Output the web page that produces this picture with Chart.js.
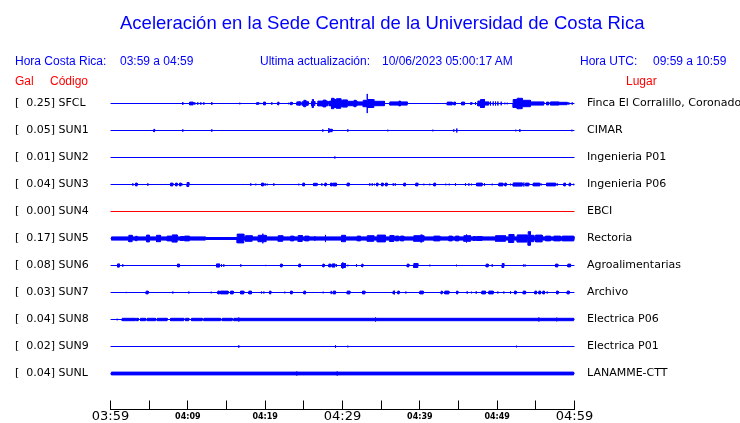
<!DOCTYPE html>
<html>
<head>
<meta charset="utf-8">
<script src="https://cdn.jsdelivr.net/npm/chart.js@4.4.0/dist/chart.umd.min.js"></script>
<style>
body { margin: 0; background: #fff; }
#wrap { position: relative; width: 740px; height: 423px; }
.t { position: absolute; white-space: pre; font-family: "Liberation Sans", Arial, sans-serif; font-size: 12px; line-height: 1; color: #0000ff; }
.r { color: #ff0000; }
</style>
</head>
<body>
<div id="wrap">
<canvas id="seis" width="740" height="423"></canvas>
<div class="t" style="left:120px;top:13.5px;font-size:18.5px">Aceleración en la Sede Central de la Universidad de Costa Rica</div>
<div class="t" style="left:15px;top:54.8px">Hora Costa Rica:</div>
<div class="t" style="left:120px;top:54.8px">03:59 a 04:59</div>
<div class="t" style="left:260px;top:54.8px">Ultima actualización:</div>
<div class="t" style="left:382px;top:54.8px">10/06/2023 05:00:17 AM</div>
<div class="t" style="left:580px;top:54.8px">Hora UTC:</div>
<div class="t" style="left:653px;top:54.8px">09:59 a 10:59</div>
<div class="t r" style="left:15px;top:74.8px">Gal</div>
<div class="t r" style="left:50px;top:74.8px">Código</div>
<div class="t r" style="left:626px;top:74.8px">Lugar</div>
</div>
<script>
// estaciones
var codes = ['SFCL', 'SUN1', 'SUN2', 'SUN3', 'SUN4', 'SUN5', 'SUN6', 'SUN7', 'SUN8', 'SUN9', 'SUNL'];
var peaks = [0.25, 0.05, 0.01, 0.04, 0.00, 0.17, 0.08, 0.03, 0.04, 0.02, 0.04];
var places = ['Finca El Corralillo, Coronado', 'CIMAR', 'Ingenieria P01', 'Ingenieria P06', 'EBCI', 'Rectoria',
    'Agroalimentarias', 'Archivo', 'Electrica P06', 'Electrica P01', 'LANAMME-CTT'];
var traceColors = ['#0000ff', '#0000ff', '#0000ff', '#0000ff', '#ff0000', '#0000ff', '#0000ff', '#0000ff', '#0000ff', '#0000ff', '#0000ff'];

// eje de tiempo: minutos desde 03:59
var tickMinutes = [0, 10, 20, 30, 40, 50, 60];
var tickLabels = ['03:59', '04:09', '04:19', '04:29', '04:39', '04:49', '04:59'];

// eventos por estacion: [minuto inicio, minuto fin, amplitud en Gal]
var sfcl = [
    [9.35, 9.35, 0.035], [10.22, 10.69, 0.035], [10.9, 10.9, 0.03], [11.29, 11.29, 0.03], [11.68, 11.68, 0.03],
    [12.07, 12.07, 0.03], [13.1, 13.1, 0.035], [16.72, 16.72, 0.02], [18.88, 19.18, 0.02], [19.44, 19.44, 0.015],
    [19.79, 20.04, 0.035], [20.86, 20.86, 0.03], [21.63, 21.76, 0.035], [23.06, 23.06, 0.02], [23.28, 23.5, 0.03],
    [24.09, 24.61, 0.04], [24.4, 24.4, 0.055], [24.79, 25.57, 0.045], [25.0, 25.25, 0.08],
    [25.99, 26.42, 0.05], [26.1, 26.25, 0.1], [26.81, 28.15, 0.055], [26.81, 27.5, 0.06], [27.5, 27.85, 0.085],
    [28.32, 28.58, 0.06], [28.58, 28.88, 0.13], [28.88, 29.22, 0.1], [29.22, 29.78, 0.12], [29.78, 30.04, 0.08],
    [30.04, 30.61, 0.09], [30.61, 31.9, 0.055], [31.5, 31.75, 0.08], [31.9, 32.68, 0.04], [32.68, 33.2, 0.08],
    [33.2, 33.2, 0.24], [33.2, 34.05, 0.1], [34.05, 35.43, 0.055], [36.12, 38.37, 0.04], [37.3, 37.5, 0.06],
    [43.54, 44.19, 0.035], [44.39, 44.61, 0.035], [45.39, 45.78, 0.035], [46.55, 46.75, 0.02], [47.2, 47.2, 0.035],
    [47.5, 47.85, 0.06], [47.85, 48.36, 0.1], [48.02, 48.02, 0.11], [48.36, 48.92, 0.04], [49.14, 49.14, 0.05],
    [49.49, 49.49, 0.05], [49.79, 49.79, 0.05], [50.09, 50.09, 0.05], [50.52, 50.52, 0.045], [51.0, 51.0, 0.02],
    [51.3, 51.3, 0.02], [52.07, 52.59, 0.1], [52.59, 53.24, 0.13], [52.75, 52.75, 0.14], [53.24, 54.31, 0.08],
    [54.31, 56.03, 0.04], [56.38, 56.68, 0.035], [56.9, 57.97, 0.04], [57.97, 59.06, 0.03], [59.27, 59.27, 0.03],
    [59.7, 59.7, 0.03]
];
var sun1 = [
    [5.6, 5.7, 0.03], [9.35, 9.35, 0.03], [13.1, 13.1, 0.03], [27.46, 27.46, 0.03], [28.23, 28.67, 0.03],
    [28.23, 28.23, 0.06], [30.69, 30.69, 0.03], [35.86, 35.86, 0.02], [41.68, 41.68, 0.02], [44.39, 44.39, 0.03],
    [44.78, 44.78, 0.05], [52.41, 52.41, 0.02], [52.93, 52.93, 0.035], [59.66, 59.66, 0.02]
];
var sun2 = [[29.01, 29.01, 0.025]];
var sun3 = [
    [2.89, 2.89, 0.03], [3.23, 3.45, 0.035], [4.83, 4.83, 0.03], [7.76, 8.06, 0.035], [8.41, 8.62, 0.035],
    [8.92, 9.14, 0.035], [9.27, 9.27, 0.02], [9.91, 10.13, 0.05], [18.14, 18.14, 0.03], [18.79, 18.79, 0.02],
    [19.53, 19.79, 0.035], [20.0, 20.0, 0.03], [20.26, 20.26, 0.02], [21.12, 21.12, 0.03], [24.35, 24.35, 0.02],
    [24.87, 25.09, 0.035], [26.25, 26.68, 0.03], [26.77, 26.77, 0.02], [27.33, 27.33, 0.03], [27.72, 27.89, 0.035],
    [28.45, 28.67, 0.035], [28.8, 29.22, 0.035], [30.61, 30.87, 0.035], [33.53, 33.53, 0.03], [33.84, 33.84, 0.03],
    [34.14, 34.14, 0.02], [34.4, 34.57, 0.035], [35.04, 35.26, 0.035], [35.56, 35.78, 0.035], [36.56, 36.56, 0.03],
    [36.82, 36.82, 0.03], [37.93, 38.15, 0.035], [39.48, 39.74, 0.035], [40.52, 40.52, 0.02], [41.29, 41.29, 0.02],
    [41.81, 42.03, 0.035], [43.36, 43.36, 0.02], [43.8, 43.8, 0.02], [44.61, 44.61, 0.03], [45.91, 45.91, 0.03],
    [46.34, 46.34, 0.03], [46.68, 46.68, 0.02], [47.33, 48.06, 0.035], [48.36, 48.36, 0.03], [49.36, 49.36, 0.02],
    [50.22, 50.74, 0.035], [50.99, 51.17, 0.035], [51.73, 51.73, 0.02], [52.07, 53.24, 0.04], [53.45, 53.45, 0.05],
    [53.67, 54.1, 0.035], [54.66, 55.52, 0.035], [55.74, 55.74, 0.02], [56.38, 57.55, 0.035], [57.76, 57.76, 0.03],
    [58.62, 58.84, 0.035], [59.32, 59.49, 0.035], [59.91, 59.91, 0.02]
];
var sun4 = [];
var sun5 = [
    [0.13, 12.28, 0.04], [2.37, 2.8, 0.08], [3.23, 3.45, 0.055], [4.66, 5.04, 0.085], [5.95, 6.47, 0.08],
    [7.33, 7.89, 0.06], [7.98, 8.62, 0.09], [9.05, 9.48, 0.05], [9.57, 10.22, 0.06], [12.28, 16.38, 0.025],
    [16.38, 17.24, 0.11], [17.24, 60, 0.04], [17.46, 18.32, 0.07], [19.1, 20.13, 0.08], [19.7, 19.7, 0.12],
    [21.68, 22.28, 0.07], [23.28, 23.71, 0.06], [24.27, 24.79, 0.075], [25.13, 25.65, 0.06], [26.42, 26.42, 0.06],
    [27.8, 27.8, 0.09], [29.87, 30.39, 0.08], [31.9, 32.33, 0.06], [33.2, 34.05, 0.07], [34.49, 35.56, 0.085],
    [36.12, 36.64, 0.075], [36.85, 37.28, 0.06], [37.5, 37.93, 0.06], [39.22, 40.52, 0.07], [40.1, 40.3, 0.09],
    [41.81, 42.59, 0.06], [43.75, 44.19, 0.06], [44.61, 45.04, 0.06], [45.69, 46.55, 0.07], [46.04, 46.04, 0.1],
    [46.9, 47.2, 0.05], [47.33, 48.06, 0.05], [49.79, 51.08, 0.07], [51.51, 52.15, 0.1], [52.59, 53.88, 0.09],
    [54.01, 54.31, 0.17], [54.31, 54.74, 0.08], [54.96, 55.82, 0.085], [56.25, 56.9, 0.06], [57.33, 58.19, 0.06],
    [58.41, 59.91, 0.06]
];
var sun6 = [
    [0.91, 1.16, 0.04], [1.59, 1.59, 0.03], [8.66, 8.92, 0.035], [13.71, 14.1, 0.04], [14.35, 14.35, 0.03],
    [14.65, 14.65, 0.03], [16.85, 16.85, 0.03], [20.08, 20.08, 0.015], [21.98, 22.2, 0.035], [24.35, 24.57, 0.035],
    [27.46, 27.63, 0.035], [28.23, 28.49, 0.035], [28.67, 29.01, 0.04], [29.22, 29.22, 0.03], [29.87, 30.39, 0.05],
    [30.04, 30.04, 0.08], [30.69, 30.69, 0.02], [31.81, 31.81, 0.03], [32.5, 32.63, 0.035], [38.37, 38.58, 0.035],
    [39.22, 39.74, 0.05], [41.29, 41.29, 0.02], [44.74, 44.74, 0.02], [48.58, 48.84, 0.035], [49.36, 49.36, 0.03],
    [50.65, 50.86, 0.05], [53.45, 53.45, 0.03], [53.67, 53.67, 0.02], [57.55, 57.84, 0.035], [59.14, 59.49, 0.035]
];
var sun7 = [
    [2.03, 2.03, 0.015], [4.61, 4.87, 0.035], [8.06, 8.06, 0.025], [10.13, 10.13, 0.025], [13.02, 13.02, 0.02],
    [13.88, 14.1, 0.035], [14.22, 15.21, 0.035], [15.52, 15.87, 0.035], [16.81, 17.24, 0.035], [17.89, 18.23, 0.035],
    [19.53, 19.53, 0.025], [19.83, 19.83, 0.025], [20.56, 20.73, 0.035], [22.54, 22.54, 0.02], [23.28, 23.5, 0.035],
    [25.0, 25.22, 0.035], [27.5, 27.5, 0.02], [28.54, 28.54, 0.04], [28.8, 29.1, 0.035], [30.61, 30.95, 0.035],
    [32.59, 32.89, 0.035], [36.56, 36.77, 0.035], [36.66, 36.66, 0.045], [37.15, 37.33, 0.035], [38.19, 38.19, 0.025],
    [40.0, 40.44, 0.035], [42.76, 42.89, 0.035], [43.23, 43.75, 0.035], [44.74, 44.91, 0.035], [46.12, 46.12, 0.03],
    [46.68, 46.68, 0.02], [47.29, 47.29, 0.03], [48.02, 48.49, 0.035], [48.92, 49.49, 0.035], [50.09, 50.09, 0.025],
    [50.86, 50.86, 0.025], [51.73, 51.73, 0.03], [52.24, 52.46, 0.035], [53.37, 53.67, 0.035], [54.87, 55.09, 0.035],
    [55.39, 55.61, 0.035], [55.91, 56.12, 0.035], [56.47, 56.47, 0.025], [57.68, 57.89, 0.035], [59.06, 59.32, 0.035]
];
var sun8 = [
    [0.86, 0.86, 0.02], [1.51, 3.23, 0.03], [3.35, 3.6, 0.03], [3.88, 4.53, 0.03], [4.74, 5.82, 0.03],
    [6.04, 7.33, 0.03], [7.76, 9.48, 0.03], [9.7, 10.13, 0.03], [10.47, 11.86, 0.03], [12.07, 14.22, 0.03],
    [14.44, 15.74, 0.03], [15.95, 59.9, 0.03], [16.59, 16.59, 0.05], [34.27, 34.27, 0.05], [55.39, 55.39, 0.05],
    [57.7, 57.7, 0.045]
];
var sun9 = [[16.59, 16.59, 0.03], [29.1, 29.1, 0.03], [30.69, 30.69, 0.02], [52.5, 52.5, 0.02]];
var sunl = [[0.1, 59.9, 0.035], [24.09, 24.09, 0.05], [29.31, 29.31, 0.05]];

var traces = [sfcl, sun1, sun2, sun3, sun4, sun5, sun6, sun7, sun8, sun9, sunl];

var galToRow = 40 / 27; // escala vertical: Gal -> separacion entre trazas

// envolvente escalonada a partir de los eventos
function envelope(events) {
    var set = [0, 60];
    events.forEach(function (e) { set.push(e[0], e[1]); });
    var bp = set.filter(function (v, i) { return set.indexOf(v) === i; }).sort(function (a, b) { return a - b; });
    function over(a, b) {
        var m = 0;
        events.forEach(function (e) { if (e[0] < e[1] && e[0] <= a && e[1] >= b) m = Math.max(m, e[2]); });
        return m;
    }
    function spike(p) {
        var m = 0;
        events.forEach(function (e) { if (e[0] === e[1] && e[0] === p) m = Math.max(m, e[2]); });
        return m;
    }
    var out = [];
    bp.forEach(function (p, k) {
        var prev = k > 0 ? over(bp[k - 1], p) : 0;
        var next = k < bp.length - 1 ? over(p, bp[k + 1]) : 0;
        var s = Math.max(prev, next, spike(p));
        out.push([p, prev], [p, s], [p, next]);
    });
    return out;
}

var datasets = [];
traces.forEach(function (ev, i) {
    var env = envelope(ev);
    var col = traceColors[i];
    datasets.push({
        data: env.map(function (p) { return { x: p[0], y: i - p[1] * galToRow }; }),
        borderColor: col, backgroundColor: col, borderWidth: 1, pointRadius: 0, fill: '+1'
    });
    datasets.push({
        data: env.map(function (p) { return { x: p[0], y: i + p[1] * galToRow }; }),
        borderColor: col, backgroundColor: col, borderWidth: 1, pointRadius: 0, fill: false
    });
});

var rowTicks = function (scale) {
    scale.ticks = codes.map(function (c, i) { return { value: i }; });
};

// eje de tiempo: linea, marcas hacia arriba y etiquetas
var timeAxis = {
    id: 'timeAxis',
    afterDraw: function (chart) {
        var ctx = chart.ctx;
        var xs = chart.scales.x;
        var bottom = chart.chartArea.bottom;
        ctx.save();
        ctx.strokeStyle = '#000';
        ctx.lineWidth = 1;
        ctx.beginPath();
        ctx.moveTo(xs.left - 0.5, bottom);
        ctx.lineTo(xs.right + 0.5, bottom);
        xs.ticks.forEach(function (t) {
            var px = Math.round(xs.getPixelForValue(t.value) - 0.5) + 0.5;
            ctx.moveTo(px, bottom);
            ctx.lineTo(px, bottom - 9);
        });
        ctx.stroke();
        ctx.fillStyle = '#000';
        ctx.textAlign = 'center';
        ctx.textBaseline = 'middle';
        tickMinutes.forEach(function (m, k) {
            ctx.font = m % 30 === 0 ? '13px "DejaVu Sans"' : 'bold 8px "DejaVu Sans"';
            ctx.fillText(tickLabels[k], xs.getPixelForValue(m), bottom + 7.5);
        });
        ctx.restore();
    }
};

new Chart(document.getElementById('seis'), {
    type: 'line',
    data: { datasets: datasets },
    plugins: [timeAxis],
    options: {
        responsive: false,
        animation: false,
        events: [],
        layout: { padding: { top: 76.5, left: 15, right: 0, bottom: 13.5 } },
        plugins: { legend: { display: false }, tooltip: { enabled: false } },
        elements: { line: { tension: 0 } },
        scales: {
            x: {
                type: 'linear', min: 0, max: 60, position: 'bottom', display: false,
                afterBuildTicks: function (s) {
                    var t = [];
                    for (var m = 0; m <= 60; m += 5) t.push({ value: m });
                    s.ticks = t;
                }
            },
            y: {
                type: 'linear', reverse: true, min: -1, max: 10 + 36 / 27, position: 'left', display: true,
                grid: { display: false, drawTicks: false }, border: { display: false },
                afterFit: function (s) { s.width = 95.5; },
                afterBuildTicks: rowTicks,
                ticks: {
                    autoSkip: false, crossAlign: 'far', padding: 0, color: '#000', font: { family: 'DejaVu Sans', size: 11 },
                    callback: function (v) {
                        return '[' + peaks[v].toFixed(2).padStart(6) + '] ' + codes[v];
                    }
                }
            },
            y2: {
                type: 'linear', reverse: true, min: -1, max: 10 + 36 / 27, position: 'right', display: true,
                grid: { display: false, drawTicks: true, tickLength: 12.5 }, border: { display: false },
                afterFit: function (s) { s.width = 165.5; },
                afterBuildTicks: rowTicks,
                ticks: {
                    autoSkip: false, crossAlign: 'near', padding: 0, color: '#000', font: { family: 'DejaVu Sans', size: 11 },
                    callback: function (v) { return places[v]; }
                }
            }
        }
    }
});
</script>
</body>
</html>
